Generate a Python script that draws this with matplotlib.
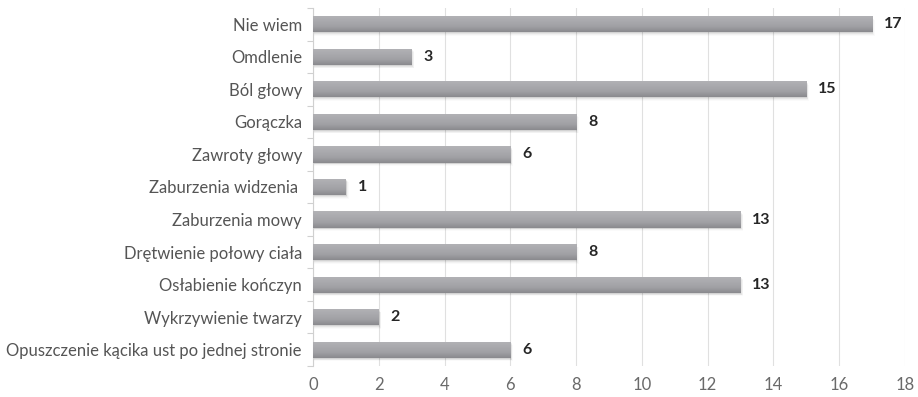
import numpy as np
import matplotlib.pyplot as plt
from matplotlib.colors import LinearSegmentedColormap
from matplotlib.patches import FancyBboxPatch

categories = [
    "Nie wiem",
    "Omdlenie",
    "Ból głowy",
    "Gorączka",
    "Zawroty głowy",
    "Zaburzenia widzenia ",
    "Zaburzenia mowy",
    "Drętwienie połowy ciała",
    "Osłabienie kończyn",
    "Wykrzywienie twarzy",
    "Opuszczenie kącika ust po jednej stronie",
]
values = [17, 3, 15, 8, 6, 1, 13, 8, 13, 2, 6]
xticks = list(range(0, 19, 2))

plt.rcParams["font.family"] = ["Lato", "DejaVu Sans"]

fig = plt.figure(figsize=(9.18, 3.97), dpi=100)
ax = fig.add_axes([313 / 918, 1 - 366 / 397, 592 / 918, 358 / 397])

n = len(categories)
ypos = np.arange(n)[::-1]
bar_h = 0.5

# vertical gradient for the bars: light top, darker bottom
grad = LinearSegmentedColormap.from_list(
    "bar", ["#8a8a8e", "#a0a0a4", "#aaaaae", "#b3b3b6"]
)
gimg = np.linspace(0, 1, 64).reshape(-1, 1)

for y, v in zip(ypos, values):
    # soft shadow under each bar
    for k, a in enumerate([0.07, 0.05, 0.03, 0.02]):
        off = 0.03 + 0.025 * k
        sh = FancyBboxPatch(
            (0.02, y - bar_h / 2 - off), v + 0.02 * k, bar_h,
            boxstyle="square,pad=0", facecolor="black", edgecolor="none",
            alpha=a, zorder=2,
        )
        ax.add_patch(sh)
    bar = ax.barh(y, v, height=bar_h, color="none", zorder=3)[0]
    im = ax.imshow(
        gimg, cmap=grad, aspect="auto", origin="lower",
        extent=(0, v, y - bar_h / 2, y + bar_h / 2), zorder=3,
    )
    im.set_clip_path(bar)
    ax.text(v + 0.36, y, str(v), va="center", ha="left",
            fontsize=11.5, fontweight="bold", color="#262626", zorder=4)

ax.set_xlim(0, 18)
ax.set_ylim(-0.5, n - 0.5)
ax.set_xticks(xticks)
ax.set_xticklabels([str(t) for t in xticks], fontsize=12, color="#6a6a6a")
ax.set_yticks(ypos)
ax.set_yticklabels(categories, fontsize=12, color="#555555")
ax.set_yticks(np.arange(-0.5, n, 1), minor=True)

ax.tick_params(axis="x", length=0, pad=8)
ax.tick_params(axis="y", which="major", length=0, pad=8)
ax.tick_params(axis="y", which="minor", length=4, color="#d0d0d0", width=0.8)

ax.grid(axis="x", color="#e0e0e0", linewidth=0.8, zorder=0)
ax.set_axisbelow(True)
for side in ["top", "right", "bottom"]:
    ax.spines[side].set_visible(False)
ax.spines["left"].set_color("#d0d0d0")
ax.spines["left"].set_linewidth(0.8)

fig.savefig("out.png", dpi=100)
